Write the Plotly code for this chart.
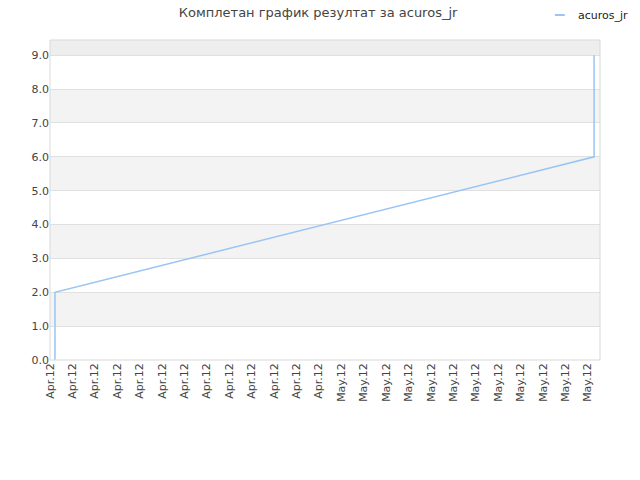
import plotly.graph_objects as go

# ---------------- datos ----------------
fechas = ["2012-04-18 05:20", "2012-04-18 05:20", "2012-05-12 06:40", "2012-05-12 06:40"]
valores = [0, 2, 6, 9]
serie = "acuros_jr"
titulo = "Комплетан график резултат за acuros_jr"

dias = ["2012-04-%02d" % d for d in range(18, 31)] + ["2012-05-%02d" % d for d in range(1, 13)]
etiquetas = ["Apr.12"] * 13 + ["May.12"] * 12
y_ticks = [0, 1, 2, 3, 4, 5, 6, 7, 8, 9]

color_linea = "#99c5f2"

# ---------------- figura ----------------
fig = go.Figure()
fig.add_trace(go.Scatter(x=fechas, y=valores, mode="lines", name=serie,
                         line=dict(color=color_linea, width=1.5), showlegend=False))

# bandas grises alternas
shapes = []
for i in range(1, 9, 2):
    shapes.append(dict(type="rect", xref="paper", yref="y", x0=0, x1=1, y0=i, y1=i + 1,
                       fillcolor="#f3f3f3", line=dict(width=0), layer="below"))
shapes.append(dict(type="rect", xref="paper", yref="y", x0=0, x1=1, y0=9, y1=9.45,
                   fillcolor="#eeeeee", line=dict(width=0), layer="below"))
shapes.append(dict(type="rect", xref="paper", yref="paper", x0=0, x1=1, y0=0, y1=1,
                   fillcolor="rgba(0,0,0,0)", line=dict(width=1, color="#d9d9d9")))
# leyenda manual (línea corta)
shapes.append(dict(type="line", xref="paper", yref="paper", x0=0.918, x1=0.936, y0=1.078, y1=1.078,
                   line=dict(color=color_linea, width=2)))

fig.update_layout(
    width=640, height=480,
    margin=dict(l=50, r=40, t=40, b=120, autoexpand=False),
    paper_bgcolor="white", plot_bgcolor="white",
    font=dict(family="DejaVu Sans", size=11, color="#444"),
    title=dict(text=titulo, x=0.497, xanchor="center", y=1 - 12 / 480, yanchor="middle",
               font=dict(size=13, color="#444")),
    showlegend=False,
    hovermode=False,
    shapes=shapes,
    annotations=[dict(text=serie, xref="paper", yref="paper", x=0.956, y=1.078,
                      xanchor="left", yanchor="middle", showarrow=False,
                      font=dict(size=11, color="#222"))],
)
fig.update_xaxes(type="date", range=["2012-04-18", "2012-05-12 13:00"],
                 tickvals=dias, ticktext=etiquetas, tickangle=-90,
                 showgrid=False, zeroline=False, showline=False, ticks="")
fig.update_yaxes(range=[0, 9.45], tickvals=y_ticks, tickformat=".1f",
                 showgrid=True, gridcolor="#e0e0e0", zeroline=False, showline=False, ticks="")

# quitar el margen del body para que la figura empiece en (0,0)
fig.write_html("out.html", config={"displayModeBar": False},
               post_script="document.body.style.margin='0';")
